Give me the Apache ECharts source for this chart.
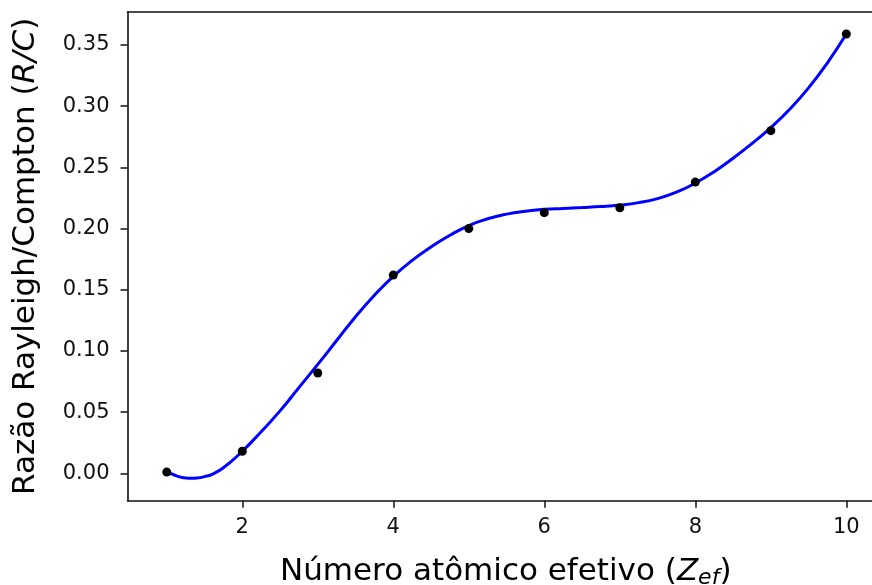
<!DOCTYPE html>
<html>
<head>
<meta charset="utf-8">
<script src="https://cdn.jsdelivr.net/npm/echarts@6/dist/echarts.min.js"></script>
<style>html,body{margin:0;padding:0;background:#fff}#c{width:872px;height:585px}</style>
</head>
<body>
<div id="c"></div>
<script>
// Data
const xTicks = [2, 4, 6, 8, 10];
const yTicks = [0, 0.05, 0.10, 0.15, 0.20, 0.25, 0.30, 0.35];
const zEf = [1, 2, 3, 4, 5, 6, 7, 8, 9, 10];
const ratioRC = [0.001, 0.018, 0.082, 0.162, 0.200, 0.213, 0.217, 0.238, 0.280, 0.359];
const fitZ = [1, 1.1, 1.2, 1.3, 1.4, 1.5, 1.6, 1.75, 2, 2.25, 2.5, 2.75, 3, 3.25, 3.5, 3.75, 4, 4.25, 4.5, 4.75, 5, 5.25, 5.5, 5.75, 6, 6.25, 6.5, 6.75, 7, 7.25, 7.5, 7.75, 8, 8.25, 8.5, 8.75, 9, 9.25, 9.5, 9.75, 10];
const fitRC = [0.0015, -0.0014, -0.0034, -0.0041, -0.0038, -0.0027, -0.0008, 0.0045, 0.0180, 0.0340, 0.0510, 0.0700, 0.0890, 0.1085, 0.1280, 0.1455, 0.1610, 0.1740, 0.1850, 0.1945, 0.2025, 0.2080, 0.2118, 0.2142, 0.2157, 0.2165, 0.2172, 0.2180, 0.2192, 0.2212, 0.2245, 0.2297, 0.2372, 0.2465, 0.2575, 0.2695, 0.2825, 0.2975, 0.3150, 0.3355, 0.3590];

const font = 'DejaVu Sans';
const lineCol = '#111';
const chart = echarts.init(document.getElementById('c'), null, {renderer: 'canvas'});
const xMin = 0.48, xMax = 10.34;
chart.setOption({
  animation: false,
  backgroundColor: '#fff',
  grid: {
    left: 127.5, top: 12, right: 0, bottom: 84.3,
    outerBoundsMode: 'none', containLabel: false
  },
  xAxis: [{
    type: 'value', min: xMin, max: xMax, position: 'bottom',
    name: 'Número atômico efetivo ({i|Z}{sub|ef})',
    nameLocation: 'middle', nameGap: 53,
    nameTextStyle: {
      fontFamily: font, fontSize: 31, color: '#000', padding: [0, 0, 0, 12],
      rich: {
        i: {fontFamily: font, fontSize: 31, fontStyle: 'italic', color: '#000'},
        sub: {fontFamily: font, fontSize: 22, fontStyle: 'italic', color: '#000', padding: [14, 0, 0, 0]}
      }
    },
    axisLine: {show: true, onZero: false, lineStyle: {color: lineCol, width: 1.6}},
    axisTick: {show: true, length: 7, inside: false, lineStyle: {color: lineCol, width: 1.5}, customValues: xTicks},
    axisLabel: {fontFamily: font, fontSize: 21, color: '#111', margin: 16, customValues: xTicks,
      formatter: v => String(v)},
    splitLine: {show: false}
  }, {
    type: 'value', min: xMin, max: xMax, position: 'top',
    axisLine: {show: true, onZero: false, lineStyle: {color: lineCol, width: 1.6}},
    axisTick: {show: false}, axisLabel: {show: false}, splitLine: {show: false}
  }],
  yAxis: {
    type: 'value', min: -0.0224, max: 0.377,
    name: 'Razão Rayleigh/Compton ({i|R/C})',
    nameLocation: 'middle', nameGap: 86,
    nameTextStyle: {
      fontFamily: font, fontSize: 31, color: '#000',
      rich: {
        i: {fontFamily: font, fontSize: 31, fontStyle: 'italic', color: '#000'}
      }
    },
    axisLine: {show: true, onZero: false, lineStyle: {color: lineCol, width: 1.6}},
    axisTick: {show: true, length: 7, inside: false, lineStyle: {color: lineCol, width: 1.5}, customValues: yTicks},
    axisLabel: {fontFamily: font, fontSize: 21, color: '#111', margin: 18, customValues: yTicks,
      formatter: v => Number(v).toFixed(2)},
    splitLine: {show: false}
  },
  series: [
    {
      type: 'line',
      data: fitZ.map((z, i) => [z, fitRC[i]]),
      smooth: true,
      showSymbol: false,
      lineStyle: {color: '#0000ff', width: 3},
      itemStyle: {color: '#0000ff'},
      z: 2
    },
    {
      type: 'scatter',
      data: zEf.map((z, i) => [z, ratioRC[i]]),
      symbol: 'circle',
      symbolSize: 9,
      itemStyle: {color: '#000', opacity: 1},
      z: 3
    }
  ]
});
</script>
</body>
</html>
